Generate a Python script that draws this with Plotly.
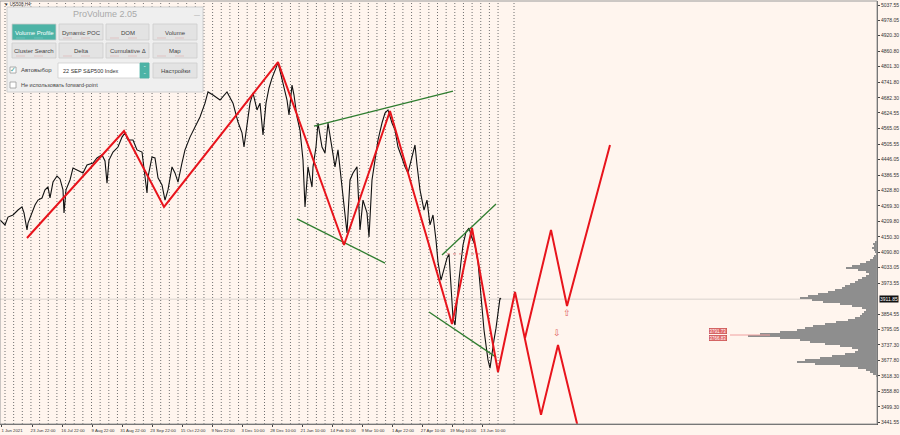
import plotly.graph_objects as go

# ---------------- data ----------------
# H4 bar index (x) and close price (y) of the black price line
price_bar = [0, 6, 15, 24, 39, 54, 66, 72, 81, 84, 96, 105, 114, 126, 135, 144, 150, 159, 171, 180,
             189, 192, 198, 210, 219, 234, 249, 261, 279, 291, 306, 315, 321, 327, 339, 354, 366, 375, 384, 399,
             411, 426, 441, 444, 456, 465, 474, 486, 495, 504, 516, 525, 534, 546, 555, 570, 585, 600, 615, 624,
             639, 660, 681, 699, 714, 726, 732, 741, 750, 759, 771, 780, 789, 798, 807, 816, 825, 834, 843, 852,
             861, 867, 876, 882, 891, 900, 909, 915, 921, 924, 936, 939, 948, 954, 966, 975, 984, 996, 1005, 1014,
             1026, 1035, 1041, 1050, 1059, 1071, 1080, 1089, 1101, 1107, 1116, 1125, 1134, 1146, 1155, 1164, 1176, 1185, 1194, 1206,
             1215, 1224, 1236, 1245, 1251, 1260, 1272, 1281, 1290, 1299, 1308, 1314, 1323, 1332, 1341, 1347, 1353, 1359, 1365, 1371,
             1377, 1383, 1389, 1398, 1407, 1416, 1425, 1434, 1440, 1446, 1452, 1458, 1464, 1470, 1476, 1482, 1488, 1494, 1500, 1503]
price_val = [4215, 4207, 4196, 4226, 4234, 4253, 4265, 4242, 4177, 4203, 4242, 4272, 4291, 4299, 4330, 4341, 4299, 4360, 4383, 4372,
             4330, 4242, 4330, 4368, 4414, 4406, 4395, 4425, 4433, 4452, 4464, 4441, 4356, 4444, 4475, 4494, 4532, 4548, 4521, 4521,
             4483, 4475, 4318, 4379, 4456, 4452, 4376, 4349, 4291, 4330, 4418, 4395, 4360, 4433, 4483, 4532, 4571, 4609, 4662, 4705,
             4693, 4674, 4705, 4662, 4590, 4548, 4494, 4586, 4662, 4701, 4636, 4662, 4540, 4662, 4720, 4758, 4789, 4816, 4770, 4720,
             4674, 4617, 4731, 4693, 4609, 4559, 4444, 4265, 4368, 4418, 4341, 4418, 4494, 4586, 4494, 4471, 4586, 4483, 4418, 4483,
             4330, 4215, 4165, 4368, 4395, 4418, 4177, 4291, 4242, 4150, 4368, 4444, 4521, 4586, 4624, 4636, 4586, 4559, 4494, 4452,
             4418, 4395, 4456, 4502, 4425, 4330, 4253, 4291, 4196, 4234, 4138, 4054, 3985, 4031, 4069, 4085, 3947, 3840, 3813, 3909,
             3985, 4054, 4119, 4169, 4184, 4146, 4119, 4054, 3966, 3890, 3794, 3736, 3679, 3648, 3710, 3756, 3801, 3863, 3916, 3912]

# zigzag (history + projection)
zz_bar = [81, 372, 492, 834, 1032, 1170, 1356, 1416, 1494, 1545, 1623, 1674, 1743]
zz_val = [4146, 4555, 4265, 4819, 4119, 4632, 3817, 4184, 3633, 3939, 3469, 3736, 3373]
zz2_bar = [1575, 1653, 1701, 1830]
zz2_val = [3763, 4177, 3886, 4502]

# green trend lines (start/end pairs)
green_bar = [[942, 1359], [891, 1155], [1326, 1488], [1287, 1488]]
green_val = [[4574, 4708], [4219, 4050], [4081, 4276], [3863, 3690]]

# dotted level
lvl_bar = [1341, 1449]
lvl_val = [4085, 4085]

# projection arrows
arrow_bar = [1701, 1671]
arrow_val = [3855, 3778]
arrow_txt = ["⇧", "⇩"]

# volume profile
prof_top = 4138.2
prof_step = 7.654
prof_vol = [0, 2, 4, 3, 5, 3, 2, 1, 3, 4, 7, 11, 17, 25, 31, 19, 11, 8, 11, 15,
            19, 22, 27, 32, 35, 42, 49, 59, 69, 77, 65, 54, 37, 25, 15, 11, 13, 15, 17, 22,
            29, 41, 52, 64, 72, 80, 97, 117, 129, 97, 77, 67, 52, 37, 25, 19, 22, 32, 45, 57,
            72, 80, 62, 37, 19, 11, 7, 4, 1]
prof_levels = [prof_top - i * prof_step for i in range(len(prof_vol))]

# axis ticks
x_tick_bar = [3, 96, 186, 276, 366, 456, 546, 636, 726, 816, 906, 996, 1086, 1176, 1266, 1356, 1446]
x_tick_txt = ["1 Jun 2021", "23 Jun 22:00", "16 Jul 22:00", "9 Aug 22:00", "31 Aug 22:00", "23 Sep 22:00",
              "15 Oct 22:00", "9 Nov 22:00", "3 Dec 10:00", "28 Dec 10:00", "21 Jan 10:00", "14 Feb 10:00",
              "9 Mar 10:00", "1 Apr 22:00", "27 Apr 10:00", "19 May 10:00", "13 Jun 10:00"]
y_tick_val = [5037.55, 4978.05, 4920.30, 4860.80, 4801.30, 4741.80, 4682.30, 4624.55, 4565.05, 4505.55,
              4446.05, 4386.55, 4328.80, 4269.30, 4209.80, 4150.30, 4090.80, 4033.05, 3973.55,
              3854.55, 3795.05, 3737.30, 3677.80, 3618.30, 3558.80, 3499.30, 3441.55]
last_price = 3911.85
poc_labels = ["3791.73", "3766.83"]

# ---------------- figure ----------------
W, H = 900, 435
ML, MR, MT, MB = 0, 23, 1, 11
PW, PH = W - ML - MR, H - MT - MB
BG = "#fff5ee"
RED = "#e8141c"
GREEN = "#2f7d2f"
FONT = "Liberation Sans"


def px(x):
    return (x - ML) / PW


def py(y):
    return 1 - (y - MT) / PH


fig = go.Figure()

# volume profile
fig.add_trace(go.Bar(y=prof_levels, x=prof_vol, orientation="h", xaxis="x2", yaxis="y",
                     width=prof_step, marker=dict(color="#8e8e8e", line=dict(width=0)),
                     hoverinfo="skip", showlegend=False))

# price
fig.add_trace(go.Scatter(x=price_bar, y=price_val, mode="lines",
                         line=dict(color="#111111", width=1.1), showlegend=False))

# green lines
for b, v in zip(green_bar, green_val):
    fig.add_trace(go.Scatter(x=b, y=v, mode="lines", line=dict(color=GREEN, width=1.3), showlegend=False))

# dotted level
fig.add_trace(go.Scatter(x=lvl_bar, y=lvl_val, mode="lines",
                         line=dict(color="#e08080", width=1, dash="dot"), showlegend=False))

# zigzags
fig.add_trace(go.Scatter(x=zz_bar, y=zz_val, mode="lines", line=dict(color=RED, width=2), showlegend=False))
fig.add_trace(go.Scatter(x=zz2_bar, y=zz2_val, mode="lines", line=dict(color=RED, width=2), showlegend=False))

# arrows
fig.add_trace(go.Scatter(x=arrow_bar, y=arrow_val, mode="text", text=arrow_txt,
                         textfont=dict(color="#e05a5a", size=9), showlegend=False))

XMAX = 2631
shapes = []
SEP_LINE = dict(color="#707070", width=1, dash="1px,2px")
# weekly separators
sep0, sep_step = 15, 25.95
k = 0
while sep0 + k * sep_step < 1500:
    xb = sep0 + k * sep_step
    shapes.append(dict(type="line", xref="x", yref="paper", x0=xb, x1=xb, y0=0, y1=1,
                       line=SEP_LINE, layer="below"))
    k += 1
shapes.append(dict(type="line", xref="x", yref="paper", x0=1542, x1=1542, y0=0, y1=1,
                   line=SEP_LINE, layer="below"))
# current price line
shapes.append(dict(type="line", xref="paper", yref="y", x0=0, x1=1, y0=last_price, y1=last_price,
                   line=dict(color="#d9d2cd", width=1), layer="below"))
# POC tick lines
shapes.append(dict(type="line", xref="paper", yref="paper", x0=px(730), x1=px(770), y0=py(335), y1=py(335),
                   line=dict(color="#f0a0a0", width=1)))
# plot border (top/left)
shapes.append(dict(type="rect", xref="paper", yref="paper", x0=0, x1=1, y0=0, y1=1,
                   line=dict(color="#9a9a9a", width=1)))

# ----- ProVolume panel -----
PANEL = "#efefef"
shapes.append(dict(type="rect", xref="paper", yref="paper", x0=px(7), x1=px(203), y0=py(92), y1=py(7),
                   fillcolor=PANEL, line=dict(color="#cfcfcf", width=1)))
btn_rows = [(24, 40), (43, 58)]
btn_cols = [(12, 56), (59, 103), (106, 149), (153, 197)]
btn_txt = [["Volume Profile", "Dynamic POC", "DOM", "Volume"],
           ["Cluster Search", "Delta", "Cumulative Δ", "Map"]]
annots = []


def label(x, y, text, size=6, color="#444444", xanchor="center", **kw):
    d = dict(xref="paper", yref="paper", x=px(x), y=py(y), text=text, showarrow=False,
             xanchor=xanchor, yanchor="middle", font=dict(size=size, color=color, family=FONT))
    d.update(kw)
    annots.append(d)


for r, (y0, y1) in enumerate(btn_rows):
    for c, (x0, x1) in enumerate(btn_cols):
        active = (r == 0 and c == 0)
        shapes.append(dict(type="rect", xref="paper", yref="paper", x0=px(x0), x1=px(x1), y0=py(y1), y1=py(y0),
                           fillcolor="#4db3a6" if active else "#e3e3e3",
                           line=dict(color="#cdcdcd", width=0.8)))
        label((x0 + x1) / 2, (y0 + y1) / 2 + 0.5, btn_txt[r][c], size=6,
              color="#ffffff" if active else "#444444")
        # small indicators
        shapes.append(dict(type="line", xref="paper", yref="paper", x0=px(x0 + 4), x1=px(x1 - 4),
                           y0=py(y1 - 2), y1=py(y1 - 2),
                           line=dict(color="#d9a0a0" if not active else "#80d0c8", width=0.5, dash="dash")))
# row 3
shapes.append(dict(type="rect", xref="paper", yref="paper", x0=px(10), x1=px(16), y0=py(73), y1=py(67),
                   fillcolor="#ffffff", line=dict(color="#9a9a9a", width=0.8)))
shapes.append(dict(type="rect", xref="paper", yref="paper", x0=px(10), x1=px(16), y0=py(88), y1=py(82),
                   fillcolor="#ffffff", line=dict(color="#9a9a9a", width=0.8)))
shapes.append(dict(type="rect", xref="paper", yref="paper", x0=px(58), x1=px(149), y0=py(78), y1=py(63),
                   fillcolor="#ffffff", line=dict(color="#cfcfcf", width=0.8)))
shapes.append(dict(type="rect", xref="paper", yref="paper", x0=px(140), x1=px(149), y0=py(78), y1=py(63),
                   fillcolor="#4db3a6", line=dict(color="#4db3a6", width=0.8)))
shapes.append(dict(type="rect", xref="paper", yref="paper", x0=px(153), x1=px(197), y0=py(78), y1=py(63),
                   fillcolor="#e3e3e3", line=dict(color="#cdcdcd", width=0.8)))

label(105, 14, "ProVolume 2.05", size=9, color="#a9a9a9")
label(197, 15, "—", size=6, color="#9a9a9a")
label(13, 69.5, "✓", size=7, color="#3aa090")
label(19, 70.5, "Автовыбор", size=6, xanchor="left")
label(61, 71, "22 SEP S&P500 Index", size=5.5, color="#333333", xanchor="left")
label(144.5, 70.5, "⌃<br>⌄", size=4, color="#ffffff")
label(175, 71, "Настройки", size=6)
label(19, 85, "Не использовать forward-point", size=5.5, xanchor="left")
label(2, 4.5, "▼ US500,H4", size=4.5, color="#333333", xanchor="left")

# current price box
annots.append(dict(xref="paper", yref="y", x=1, y=last_price, text=f"{last_price:.2f}", showarrow=False,
                   xanchor="left", yanchor="middle", xshift=2, bgcolor="#111111", borderpad=0,
                   font=dict(size=5, color="#ffffff", family=FONT)))
# POC labels
for i, t in enumerate(poc_labels):
    label(709, 331 + 7 * i, t, size=4.5, color="#ffffff", xanchor="left",
          bgcolor="#e06565", bordercolor="#c04040", borderwidth=0.5, borderpad=0)

fig.update_layout(
    width=W, height=H,
    margin=dict(l=ML, r=MR, t=MT, b=MB, pad=0, autoexpand=False),
    paper_bgcolor=BG, plot_bgcolor=BG,
    showlegend=False, bargap=0,
    xaxis=dict(range=[0, XMAX], showgrid=False, zeroline=False, automargin=False,
               tickmode="array", tickvals=x_tick_bar, ticktext=x_tick_txt, tickangle=0,
               ticks="outside", ticklen=2, tickcolor="#444444", ticklabelshift=11,
               tickfont=dict(size=4.3, color="#333333", family=FONT),
               showline=True, linecolor="#555555", linewidth=1),
    xaxis2=dict(overlaying="x", range=[880, 0], visible=False, anchor="y", automargin=False),
    yaxis=dict(range=[3434.1, 5052.9], side="right", showgrid=False, zeroline=False, automargin=False,
               tickmode="array", tickvals=y_tick_val, ticktext=[f"{v:.2f}" for v in y_tick_val],
               ticks="outside", ticklen=2, tickcolor="#444444",
               tickfont=dict(size=5, color="#333333", family=FONT),
               showline=True, linecolor="#555555", linewidth=1),
    shapes=shapes, annotations=annots,
)

fig.write_html("out.html", config={"displayModeBar": False},
               post_script="document.body.style.margin='0';document.body.style.overflow='hidden';")
